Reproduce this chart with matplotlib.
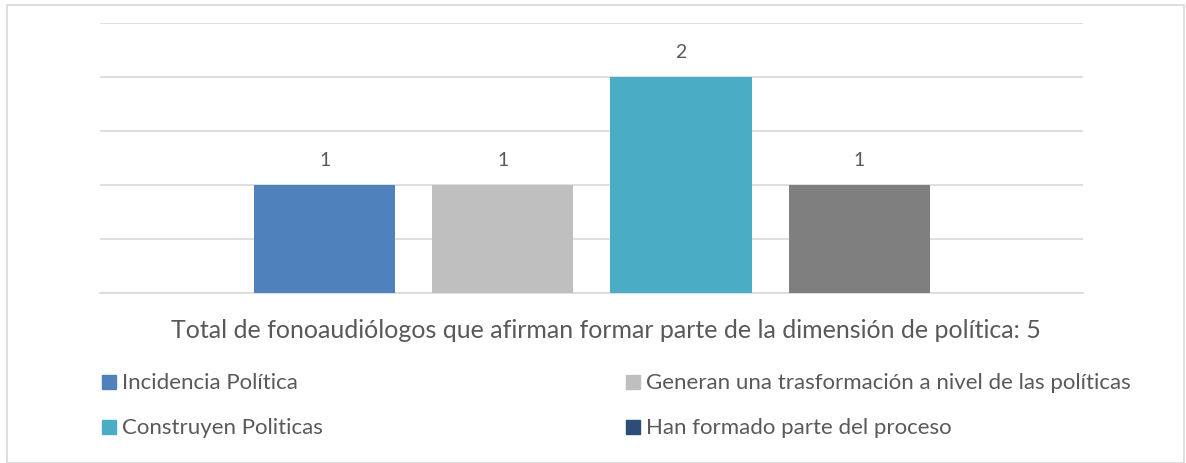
import matplotlib.pyplot as plt
from matplotlib.patches import Rectangle

plt.rcParams['font.family'] = ['Lato', 'DejaVu Sans']

# Data
series = ['Incidencia Política',
          'Generan una trasformación a nivel de las políticas',
          'Construyen Politicas',
          'Han formado parte del proceso']
values = [1, 1, 2, 1]
bar_colors = ['#4F81BD', '#BFBFBF', '#4BACC6', '#7F7F7F']
legend_colors = ['#4F81BD', '#BFBFBF', '#4BACC6', '#2C4D75']
title = 'Total de fonoaudiólogos que afirman formar parte de la dimensión de política: 5'

W, H = 1186, 464
text_color = '#595959'

fig = plt.figure(figsize=(W / 100, H / 100), dpi=100)

# outer chart frame
fig.patches.append(Rectangle((7 / W, 0.5 / H), (1184 - 7) / W, (H - 6.5) / H,
                             transform=fig.transFigure, fill=False,
                             edgecolor='#D9D9D9', linewidth=1.2))

ax = fig.add_axes([100 / W, 1 - 294 / H, (1083 - 100) / W, (294 - 24) / H])
x = list(range(len(values)))
bars = ax.bar(x, values, width=0.792, color=bar_colors, zorder=3)
for b, v in zip(bars, values):
    ax.annotate(str(v), (b.get_x() + b.get_width() / 2, v),
                xytext=(0, 12), textcoords='offset points',
                ha='center', va='bottom', fontsize=14, color=text_color)

ax.set_xlim(-1.261, 4.256)
ax.set_ylim(0, 2.5)
ax.set_yticks([0, 0.5, 1, 1.5, 2, 2.5])
ax.yaxis.grid(True, color='#D9D9D9', linewidth=1.2, zorder=0)
ax.set_xticks([])
ax.tick_params(left=False, labelleft=False)
for s in ['top', 'right', 'left']:
    ax.spines[s].set_visible(False)
ax.spines['bottom'].set_color('#D9D9D9')
ax.spines['bottom'].set_linewidth(1.2)

# title below plot
fig.text(606 / W, 1 - 331 / H, title, ha='center', va='center',
         fontsize=18, color=text_color)

# legend, two columns
pos = [(102, 383), (626, 383), (102, 428), (626, 428)]
for (px, py), name, c in zip(pos, series, legend_colors):
    fig.patches.append(Rectangle((px / W, 1 - (py + 7) / H), 14 / W, 14 / H,
                                 transform=fig.transFigure, color=c))
    fig.text((px + 20) / W, 1 - py / H, name, ha='left', va='center',
             fontsize=16, color=text_color)

fig.savefig('out.png', dpi=100)
